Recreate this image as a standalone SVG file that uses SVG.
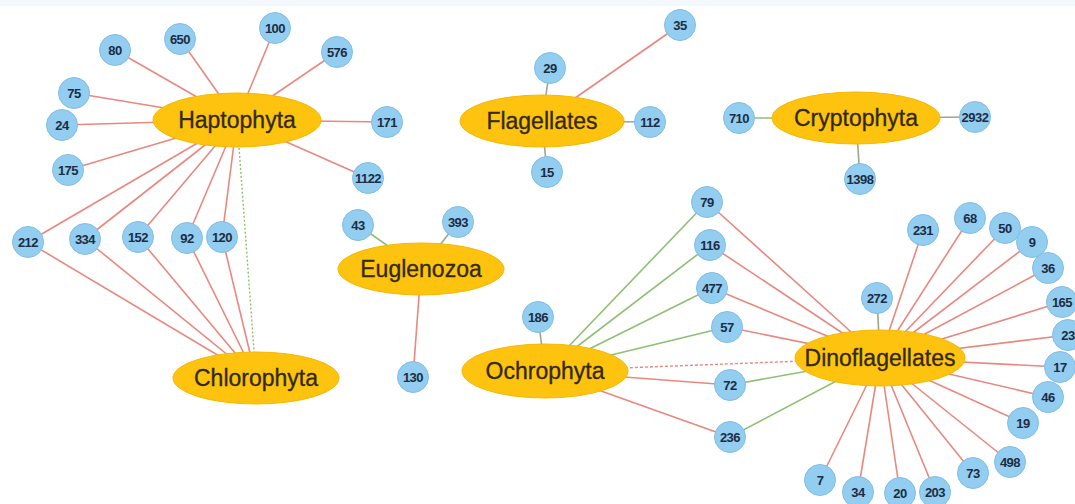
<svg xmlns="http://www.w3.org/2000/svg" width="1075" height="504" viewBox="0 0 1075 504">
<style>
.bg{fill:#ffffff}
.band{fill:#f3f8fc}
.r{stroke:#e8887f;stroke-width:1.6;fill:none}
.g{stroke:#8fbf72;stroke-width:1.6;fill:none}
.k{stroke:#9aa78c;stroke-width:1.6;fill:none}
.rd{stroke:#e8887f;stroke-width:1.4;stroke-dasharray:3 2;fill:none}
.gd{stroke:#8fbf72;stroke-width:1.4;stroke-dasharray:2 2;fill:none}
.big ellipse{fill:#fdc30f;stroke:#f6b800;stroke-width:1}
.big text{font-family:"Liberation Sans",Arial,sans-serif;font-size:23px;fill:#33290a;stroke:#33290a;stroke-width:0.3;text-anchor:middle;dominant-baseline:central}
.leaf circle{fill:#93cdf0;stroke:#80bfe6;stroke-width:1}
.leaf text{font-family:"Liberation Sans",Arial,sans-serif;font-size:13px;font-weight:bold;fill:#1c2c44;text-anchor:middle;dominant-baseline:central;letter-spacing:-0.5px}
</style>
<rect class="bg" x="0" y="0" width="1075" height="504"/>
<rect class="band" x="0" y="0" width="1075" height="6"/>
<g id="connectors">
<line class="r" x1="237" y1="120" x2="115" y2="50"/>
<line class="r" x1="237" y1="120" x2="180" y2="39"/>
<line class="r" x1="237" y1="120" x2="275" y2="28"/>
<line class="r" x1="237" y1="120" x2="337" y2="52"/>
<line class="r" x1="237" y1="120" x2="74" y2="93"/>
<line class="r" x1="237" y1="120" x2="62" y2="125"/>
<line class="r" x1="237" y1="120" x2="68" y2="170"/>
<line class="r" x1="237" y1="120" x2="387" y2="122"/>
<line class="r" x1="237" y1="120" x2="368" y2="178"/>
<line class="r" x1="237" y1="120" x2="28" y2="242"/>
<line class="r" x1="237" y1="120" x2="85" y2="239"/>
<line class="r" x1="237" y1="120" x2="138" y2="237"/>
<line class="r" x1="237" y1="120" x2="187" y2="238"/>
<line class="r" x1="237" y1="120" x2="222" y2="237"/>
<line class="r" x1="256" y1="378" x2="28" y2="242"/>
<line class="r" x1="256" y1="378" x2="85" y2="239"/>
<line class="r" x1="256" y1="378" x2="138" y2="237"/>
<line class="r" x1="256" y1="378" x2="187" y2="238"/>
<line class="r" x1="256" y1="378" x2="222" y2="237"/>
<line class="gd" x1="237" y1="120" x2="256" y2="378"/>
<line class="k" x1="542" y1="121" x2="550" y2="68"/>
<line class="r" x1="542" y1="121" x2="680" y2="25"/>
<line class="k" x1="542" y1="121" x2="650" y2="122"/>
<line class="k" x1="542" y1="121" x2="547" y2="172"/>
<line class="g" x1="856" y1="118" x2="739" y2="118"/>
<line class="k" x1="856" y1="118" x2="975" y2="117"/>
<line class="k" x1="856" y1="118" x2="860" y2="179"/>
<line class="g" x1="421" y1="269" x2="358" y2="225"/>
<line class="k" x1="421" y1="269" x2="458" y2="222"/>
<line class="r" x1="421" y1="269" x2="413" y2="377"/>
<line class="k" x1="545" y1="371" x2="538" y2="317"/>
<line class="g" x1="545" y1="371" x2="707" y2="202"/>
<line class="g" x1="545" y1="371" x2="710" y2="245"/>
<line class="g" x1="545" y1="371" x2="712" y2="288"/>
<line class="g" x1="545" y1="371" x2="727" y2="327"/>
<line class="r" x1="545" y1="371" x2="730" y2="385"/>
<line class="r" x1="545" y1="371" x2="730" y2="437"/>
<line class="rd" x1="545" y1="371" x2="880" y2="358"/>
<line class="r" x1="880" y1="358" x2="707" y2="202"/>
<line class="r" x1="880" y1="358" x2="710" y2="245"/>
<line class="r" x1="880" y1="358" x2="712" y2="288"/>
<line class="r" x1="880" y1="358" x2="727" y2="327"/>
<line class="g" x1="880" y1="358" x2="730" y2="385"/>
<line class="g" x1="880" y1="358" x2="730" y2="437"/>
<line class="k" x1="880" y1="358" x2="877" y2="298"/>
<line class="r" x1="880" y1="358" x2="923" y2="230"/>
<line class="r" x1="880" y1="358" x2="970" y2="218"/>
<line class="r" x1="880" y1="358" x2="1005" y2="228"/>
<line class="r" x1="880" y1="358" x2="1032" y2="242"/>
<line class="r" x1="880" y1="358" x2="1048" y2="268"/>
<line class="r" x1="880" y1="358" x2="1062" y2="302"/>
<line class="r" x1="880" y1="358" x2="1068" y2="335"/>
<line class="r" x1="880" y1="358" x2="1060" y2="367"/>
<line class="r" x1="880" y1="358" x2="1048" y2="397"/>
<line class="r" x1="880" y1="358" x2="1023" y2="423"/>
<line class="r" x1="880" y1="358" x2="1010" y2="462"/>
<line class="r" x1="880" y1="358" x2="973" y2="473"/>
<line class="r" x1="880" y1="358" x2="820" y2="480"/>
<line class="r" x1="880" y1="358" x2="858" y2="492"/>
<line class="r" x1="880" y1="358" x2="900" y2="493"/>
<line class="r" x1="880" y1="358" x2="935" y2="492"/>
</g>
<g id="Haptophyta" class="big"><ellipse cx="237" cy="120" rx="84" ry="27"/><text x="237" y="120">Haptophyta</text></g>
<g id="Chlorophyta" class="big"><ellipse cx="256" cy="378" rx="83" ry="26"/><text x="256" y="378">Chlorophyta</text></g>
<g id="Flagellates" class="big"><ellipse cx="542" cy="121" rx="82" ry="26"/><text x="542" y="121">Flagellates</text></g>
<g id="Cryptophyta" class="big"><ellipse cx="856" cy="118" rx="84" ry="26"/><text x="856" y="118">Cryptophyta</text></g>
<g id="Euglenozoa" class="big"><ellipse cx="421" cy="269" rx="83" ry="26"/><text x="421" y="269">Euglenozoa</text></g>
<g id="Ochrophyta" class="big"><ellipse cx="545" cy="371" rx="83" ry="27"/><text x="545" y="371">Ochrophyta</text></g>
<g id="Dinoflagellates" class="big"><ellipse cx="880" cy="358" rx="85" ry="28"/><text x="880" y="358">Dinoflagellates</text></g>
<g id="n80" class="leaf"><circle cx="115" cy="50" r="15.5"/><text x="115" y="50">80</text></g>
<g id="n650" class="leaf"><circle cx="180" cy="39" r="15.5"/><text x="180" y="39">650</text></g>
<g id="n100" class="leaf"><circle cx="275" cy="28" r="15.5"/><text x="275" y="28">100</text></g>
<g id="n576" class="leaf"><circle cx="337" cy="52" r="15.5"/><text x="337" y="52">576</text></g>
<g id="n75" class="leaf"><circle cx="74" cy="93" r="15.5"/><text x="74" y="93">75</text></g>
<g id="n24" class="leaf"><circle cx="62" cy="125" r="15.5"/><text x="62" y="125">24</text></g>
<g id="n175" class="leaf"><circle cx="68" cy="170" r="15.5"/><text x="68" y="170">175</text></g>
<g id="n171" class="leaf"><circle cx="387" cy="122" r="15.5"/><text x="387" y="122">171</text></g>
<g id="n1122" class="leaf"><circle cx="368" cy="178" r="15.5"/><text x="368" y="178">1122</text></g>
<g id="n212" class="leaf"><circle cx="28" cy="242" r="15.5"/><text x="28" y="242">212</text></g>
<g id="n334" class="leaf"><circle cx="85" cy="239" r="15.5"/><text x="85" y="239">334</text></g>
<g id="n152" class="leaf"><circle cx="138" cy="237" r="15.5"/><text x="138" y="237">152</text></g>
<g id="n92" class="leaf"><circle cx="187" cy="238" r="15.5"/><text x="187" y="238">92</text></g>
<g id="n120" class="leaf"><circle cx="222" cy="237" r="15.5"/><text x="222" y="237">120</text></g>
<g id="n29" class="leaf"><circle cx="550" cy="68" r="15.5"/><text x="550" y="68">29</text></g>
<g id="n35" class="leaf"><circle cx="680" cy="25" r="15.5"/><text x="680" y="25">35</text></g>
<g id="n112" class="leaf"><circle cx="650" cy="122" r="15.5"/><text x="650" y="122">112</text></g>
<g id="n15" class="leaf"><circle cx="547" cy="172" r="15.5"/><text x="547" y="172">15</text></g>
<g id="n710" class="leaf"><circle cx="739" cy="118" r="15.5"/><text x="739" y="118">710</text></g>
<g id="n2932" class="leaf"><circle cx="975" cy="117" r="15.5"/><text x="975" y="117">2932</text></g>
<g id="n1398" class="leaf"><circle cx="860" cy="179" r="15.5"/><text x="860" y="179">1398</text></g>
<g id="n43" class="leaf"><circle cx="358" cy="225" r="15.5"/><text x="358" y="225">43</text></g>
<g id="n393" class="leaf"><circle cx="458" cy="222" r="15.5"/><text x="458" y="222">393</text></g>
<g id="n130" class="leaf"><circle cx="413" cy="377" r="15.5"/><text x="413" y="377">130</text></g>
<g id="n186" class="leaf"><circle cx="538" cy="317" r="15.5"/><text x="538" y="317">186</text></g>
<g id="n79" class="leaf"><circle cx="707" cy="202" r="15.5"/><text x="707" y="202">79</text></g>
<g id="n116" class="leaf"><circle cx="710" cy="245" r="15.5"/><text x="710" y="245">116</text></g>
<g id="n477" class="leaf"><circle cx="712" cy="288" r="15.5"/><text x="712" y="288">477</text></g>
<g id="n57" class="leaf"><circle cx="727" cy="327" r="15.5"/><text x="727" y="327">57</text></g>
<g id="n72" class="leaf"><circle cx="730" cy="385" r="15.5"/><text x="730" y="385">72</text></g>
<g id="n236" class="leaf"><circle cx="730" cy="437" r="15.5"/><text x="730" y="437">236</text></g>
<g id="n272" class="leaf"><circle cx="877" cy="298" r="15.5"/><text x="877" y="298">272</text></g>
<g id="n231" class="leaf"><circle cx="923" cy="230" r="15.5"/><text x="923" y="230">231</text></g>
<g id="n68" class="leaf"><circle cx="970" cy="218" r="15.5"/><text x="970" y="218">68</text></g>
<g id="n50" class="leaf"><circle cx="1005" cy="228" r="15.5"/><text x="1005" y="228">50</text></g>
<g id="n9" class="leaf"><circle cx="1032" cy="242" r="15.5"/><text x="1032" y="242">9</text></g>
<g id="n36" class="leaf"><circle cx="1048" cy="268" r="15.5"/><text x="1048" y="268">36</text></g>
<g id="n165" class="leaf"><circle cx="1062" cy="302" r="15.5"/><text x="1062" y="302">165</text></g>
<g id="n23" class="leaf"><circle cx="1068" cy="335" r="15.5"/><text x="1068" y="335">23</text></g>
<g id="n17" class="leaf"><circle cx="1060" cy="367" r="15.5"/><text x="1060" y="367">17</text></g>
<g id="n46" class="leaf"><circle cx="1048" cy="397" r="15.5"/><text x="1048" y="397">46</text></g>
<g id="n19" class="leaf"><circle cx="1023" cy="423" r="15.5"/><text x="1023" y="423">19</text></g>
<g id="n498" class="leaf"><circle cx="1010" cy="462" r="15.5"/><text x="1010" y="462">498</text></g>
<g id="n73" class="leaf"><circle cx="973" cy="473" r="15.5"/><text x="973" y="473">73</text></g>
<g id="n7" class="leaf"><circle cx="820" cy="480" r="15.5"/><text x="820" y="480">7</text></g>
<g id="n34" class="leaf"><circle cx="858" cy="492" r="15.5"/><text x="858" y="492">34</text></g>
<g id="n20" class="leaf"><circle cx="900" cy="493" r="15.5"/><text x="900" y="493">20</text></g>
<g id="n203" class="leaf"><circle cx="935" cy="492" r="15.5"/><text x="935" y="492">203</text></g>
</svg>
